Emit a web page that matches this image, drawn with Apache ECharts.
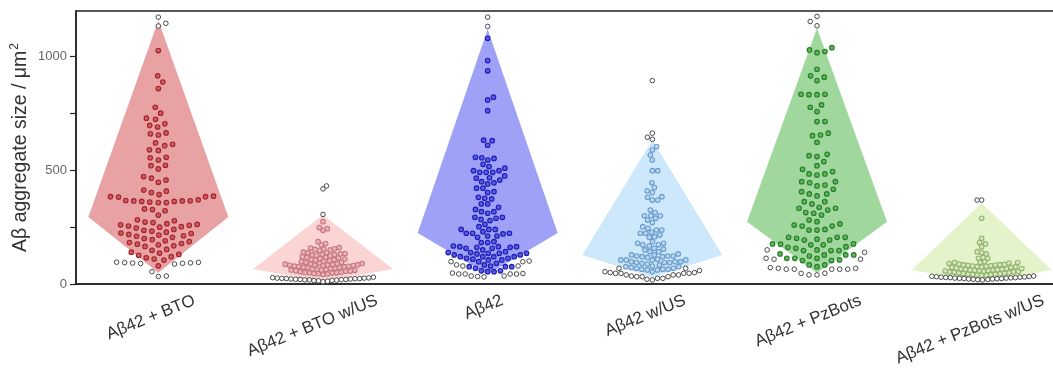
<!DOCTYPE html>
<html>
<head>
<meta charset="utf-8">
<script src="https://cdn.jsdelivr.net/npm/echarts@6/dist/echarts.min.js"></script>
<style>
  html, body { margin: 0; padding: 0; background: #fff; }
  #chart { width: 1053px; height: 372px; }
</style>
</head>
<body>
<div id="chart"></div>
<script>
// Groups along the x axis
const categories = ['Aβ42 + BTO', 'Aβ42 + BTO w/US', 'Aβ42', 'Aβ42 w/US', 'Aβ42 + PzBots', 'Aβ42 + PzBots w/US'];

// Kite outline per group: bottom tip, widest point, top tip (µm²)
const kiteLow  = [50, 10, 42, 30, 48, 8];
const kiteMid  = [294, 66, 224, 128, 274, 62];
const kiteHigh = [1158, 303, 1120, 633, 1124, 355];

// Individual aggregates drawn in the group colour
const btoIn = [1026, 915, 888, 859, 777, 751, 729, 724, 704, 697, 690, 664, 660, 655, 620, 614, 608, 590, 587, 557, 555, 545, 522, 520, 506, 472, 465, 457, 447, 413, 408, 402, 393, 386, 384, 384, 382, 370, 367, 366, 365, 365, 363, 363, 360, 358, 358, 330, 327, 322, 303, 282, 278, 272, 270, 265, 262, 260, 258, 255, 252, 250, 246, 240, 236, 232, 228, 224, 222, 218, 215, 212, 210, 205, 200, 195, 190, 186, 182, 178, 175, 172, 168, 165, 152, 148, 140, 136, 130, 126, 120, 115, 110, 105, 80];
const btoUsIn = [274, 248, 243, 236, 186, 178, 171, 160, 158, 155, 154, 152, 150, 147, 140, 138, 137, 134, 132, 131, 129, 128, 126, 123, 120, 118, 116, 114, 112, 110, 108, 107, 104, 102, 100, 98, 96, 94, 92, 90, 89, 88, 87, 86, 85, 84, 83, 82, 81, 80, 79, 78, 77, 76, 74, 72, 71, 69, 68, 66, 65, 64, 62, 61, 60, 58, 57, 56, 54, 52, 51, 50, 49, 48, 46, 45, 44, 42];
const abIn = [1080, 982, 937, 821, 809, 762, 632, 630, 610, 557, 555, 552, 545, 526, 516, 509, 498, 498, 491, 491, 491, 475, 467, 465, 457, 450, 445, 440, 421, 421, 406, 402, 381, 377, 374, 352, 352, 337, 328, 318, 318, 311, 293, 293, 289, 284, 279, 262, 252, 240, 240, 240, 230, 223, 223, 223, 220, 211, 211, 205, 186, 182, 182, 167, 164, 164, 164, 161, 161, 157, 157, 150, 142, 138, 138, 135, 135, 135, 132, 128, 128, 120, 120, 120, 120, 113, 113, 109, 106, 106, 98, 91, 84, 79, 76, 76, 76, 69, 58, 58, 54, 54];
const abUsIn = [604, 589, 567, 545, 498, 498, 445, 424, 410, 402, 384, 381, 369, 369, 325, 314, 300, 300, 300, 289, 281, 270, 252, 245, 237, 237, 227, 223, 223, 215, 208, 205, 186, 179, 179, 172, 172, 167, 157, 153, 150, 142, 142, 132, 128, 128, 123, 123, 123, 120, 120, 117, 109, 106, 106, 106, 106, 98, 98, 98, 94, 94, 94, 91, 88, 84, 79, 76, 76, 73, 69, 69, 65, 65, 65, 62, 62, 54];
const pzIn = [1039, 1029, 1022, 1017, 944, 915, 909, 894, 834, 834, 832, 832, 787, 777, 758, 714, 714, 663, 655, 652, 623, 570, 564, 560, 538, 520, 504, 494, 484, 484, 479, 450, 450, 445, 435, 431, 416, 406, 396, 396, 387, 362, 362, 352, 337, 333, 333, 325, 314, 311, 303, 281, 274, 264, 259, 255, 255, 240, 237, 237, 205, 205, 205, 201, 197, 193, 193, 176, 176, 175, 172, 172, 164, 161, 157, 150, 147, 147, 147, 132, 128, 128, 128, 123, 113, 113, 113, 106, 103, 103, 84, 84, 76];
const pzUsIn = [289, 201, 182, 176, 164, 142, 138, 132, 117, 113, 113, 98, 94, 94, 94, 92, 90, 88, 86, 85, 84, 83, 82, 80, 79, 78, 77, 76, 75, 74, 72, 70, 68, 67, 66, 65, 64, 63, 62, 61, 60, 59, 58, 57, 56, 55, 54, 53, 52, 50, 48, 47, 46, 45, 44, 43, 42, 41, 40, 39, 38];

// Aggregates drawn as open grey circles
const btoOut = [1173, 1146, 1134, 96, 94, 93, 91, 90, 88, 92, 95, 54, 35, 33];
const btoUsOut = [431, 418, 306, 30, 28, 27, 26, 26, 25, 24, 24, 23, 22, 22, 21, 20, 20, 19, 18, 18, 17, 16, 15, 14, 12, 10];
const abOut = [1173, 1132, 101, 98, 98, 84, 79, 79, 48, 46, 44, 44, 44, 44, 35, 35, 33, 31];
const abUsOut = [894, 663, 645, 636, 69, 69, 59, 54, 50, 50, 47, 47, 47, 47, 40, 40, 40, 35, 32, 32, 32, 25, 25, 21, 18];
const pzOut = [1176, 1154, 1135, 150, 139, 113, 109, 109, 72, 69, 69, 65, 65, 65, 65, 65, 47, 47, 40, 40];
const pzUsOut = [369, 369, 35, 34, 33, 32, 31, 30, 30, 29, 28, 28, 27, 26, 26, 25, 24, 24, 23, 22, 22, 21, 20, 19, 18];

// Value axis ticks and labels
const yTickValues = [0, 250, 500, 750, 1000];
const yLabelValues = [0, 500, 1000];

const innerSets = [btoIn, btoUsIn, abIn, abUsIn, pzIn, pzUsIn];
const outerSets = [btoOut, btoUsOut, abOut, abUsOut, pzOut, pzUsOut];

// Per-group look: kite fill, dot stroke, dot fill, swarm spacing (px)
const looks = [
  { kite: '#e9a2a4', stroke: '#a2232c', fill: '#cf5a61', gap: 8.0 },
  { kite: '#fbd4d4', stroke: '#c27b80', fill: '#efb3b5', gap: 4.6 },
  { kite: '#9ea1f6', stroke: '#1c1cb4', fill: '#5b5be6', gap: 6.4 },
  { kite: '#cee8fb', stroke: '#6c9dcb', fill: '#b9d8f2', gap: 5.4 },
  { kite: '#9fd79d', stroke: '#267c26', fill: '#5db75b', gap: 8.0 },
  { kite: '#e4f3ca', stroke: '#93b373', fill: '#d5eab9', gap: 4.6 }
];
const FONT = '"Liberation Sans", Arial, sans-serif';

// Flatten dots: [group, value, isGrey, indexWithinGroup]
const dotData = [];
innerSets.forEach((arr, g) => {
  const ins = arr.slice().sort((a, b) => a - b);
  const outs = outerSets[g].slice().sort((a, b) => a - b);
  ins.forEach((v, i) => dotData.push([g, v, 0, i]));
  outs.forEach((v, i) => dotData.push([g, v, 1, ins.length + i]));
});

// Beeswarm: horizontal pixel offsets so dots do not overlap
const swarmCache = {};
function buildSwarm(g, api) {
  const d = looks[g].gap;
  const vals = dotData.filter(r => r[0] === g).sort((a, b) => a[3] - b[3]);
  const placed = [];
  const xs = [];
  let flip = false;
  vals.forEach(r => {
    const y = api.coord([g, r[1]])[1];
    const near = placed.filter(p => Math.abs(p.y - y) < d);
    const cands = [0];
    near.forEach(p => {
      const w = Math.sqrt(d * d - (p.y - y) * (p.y - y));
      cands.push(p.x + w, p.x - w);
    });
    cands.sort((a, b) => {
      const diff = Math.abs(a) - Math.abs(b);
      if (Math.abs(diff) > 1e-6) return diff;
      return flip ? a - b : b - a;
    });
    let x = 0;
    for (const c of cands) {
      const ok = near.every(p => Math.abs(p.x - c) >= Math.sqrt(d * d - (p.y - y) * (p.y - y)) - 1e-6);
      if (ok) { x = c; break; }
    }
    if (x !== 0) flip = !flip;
    placed.push({ x, y });
    xs.push(x);
  });
  return xs;
}

const measureCtx = document.createElement('canvas').getContext('2d');
measureCtx.font = '17px ' + FONT;
const labelAngle = 22 * Math.PI / 180;

const chart = echarts.init(document.getElementById('chart'), null, { renderer: 'canvas' });

chart.setOption({
  animation: false,
  backgroundColor: '#fff',
  grid: {
    left: 76, top: 11, width: 988, height: 273,
    outerBoundsMode: 'none',
    containLabel: false,
    show: true, borderColor: '#222', borderWidth: 1.5, backgroundColor: 'transparent'
  },
  xAxis: {
    type: 'category',
    data: categories,
    axisLine: { lineStyle: { color: '#222', width: 1.5 } },
    axisTick: { alignWithLabel: true, length: 5, lineStyle: { color: '#222', width: 1.5 } },
    axisLabel: { show: false },
    splitLine: { show: false }
  },
  yAxis: {
    type: 'value',
    min: 0, max: 1200,
    name: 'Aβ aggregate size / μm{sup|2}',
    nameLocation: 'middle',
    nameGap: 44,
    nameMoveOverlap: false,
    nameTextStyle: {
      fontFamily: FONT, fontSize: 19.5, color: '#333', lineHeight: 23,
      rich: { sup: { fontFamily: FONT, fontSize: 12, color: '#333', verticalAlign: 'top', lineHeight: 23, padding: [0, 0, 8, 1] } }
    },
    axisLine: { show: true, lineStyle: { color: '#222', width: 1.5 } },
    axisTick: { show: true, length: 6, customValues: yTickValues, lineStyle: { color: '#222', width: 1.2 } },
    axisLabel: {
      customValues: yLabelValues, color: '#666', fontFamily: FONT, fontSize: 13, margin: 9,
      formatter: v => String(v)
    },
    splitLine: { show: false }
  },
  series: [
    {
      // kite outlines behind the dots
      type: 'custom',
      z: 1,
      data: categories.map((c, g) => [g, kiteLow[g], kiteMid[g], kiteHigh[g]]),
      renderItem: (params, api) => {
        const g = api.value(0);
        const low = api.coord([g, api.value(1)]);
        const mid = api.coord([g, api.value(2)]);
        const high = api.coord([g, api.value(3)]);
        const hw = api.size([1, 0])[0] * 0.425;
        return {
          type: 'polygon',
          shape: { points: [[low[0], low[1]], [mid[0] - hw, mid[1]], [high[0], high[1]], [mid[0] + hw, mid[1]]] },
          style: { fill: looks[g].kite }
        };
      }
    },
    {
      // individual aggregates
      type: 'custom',
      z: 2,
      data: dotData,
      renderItem: (params, api) => {
        const g = api.value(0);
        if (!swarmCache[g]) swarmCache[g] = buildSwarm(g, api);
        const p = api.coord([g, api.value(1)]);
        const dx = swarmCache[g][api.value(3)];
        const grey = api.value(2) === 1;
        return {
          type: 'circle',
          shape: { cx: p[0] + dx, cy: p[1], r: 2.3 },
          style: grey
            ? { fill: '#ffffff', stroke: '#4a4a4a', lineWidth: 1 }
            : { fill: looks[g].fill, stroke: looks[g].stroke, lineWidth: 1.1 }
        };
      }
    },
    {
      // slanted category names under the axis
      type: 'custom',
      z: 3,
      clip: false,
      silent: true,
      data: categories.map((c, i) => [i, 0]),
      renderItem: (params, api) => {
        const i = api.value(0);
        const p = api.coord([i, 0]);
        const text = categories[i];
        const w = measureCtx.measureText(text).width;
        const h = 17;
        const bw = w * Math.cos(labelAngle) + h * Math.sin(labelAngle);
        const bh = w * Math.sin(labelAngle) + h * Math.cos(labelAngle);
        return {
          type: 'text',
          x: p[0] - 0.07 * bw - 1,
          y: p[1] + 8 + bh / 2,
          rotation: labelAngle,
          style: { text, font: '17px ' + FONT, fill: '#333', align: 'center', verticalAlign: 'middle' }
        };
      }
    }
  ]
});
</script>
</body>
</html>
